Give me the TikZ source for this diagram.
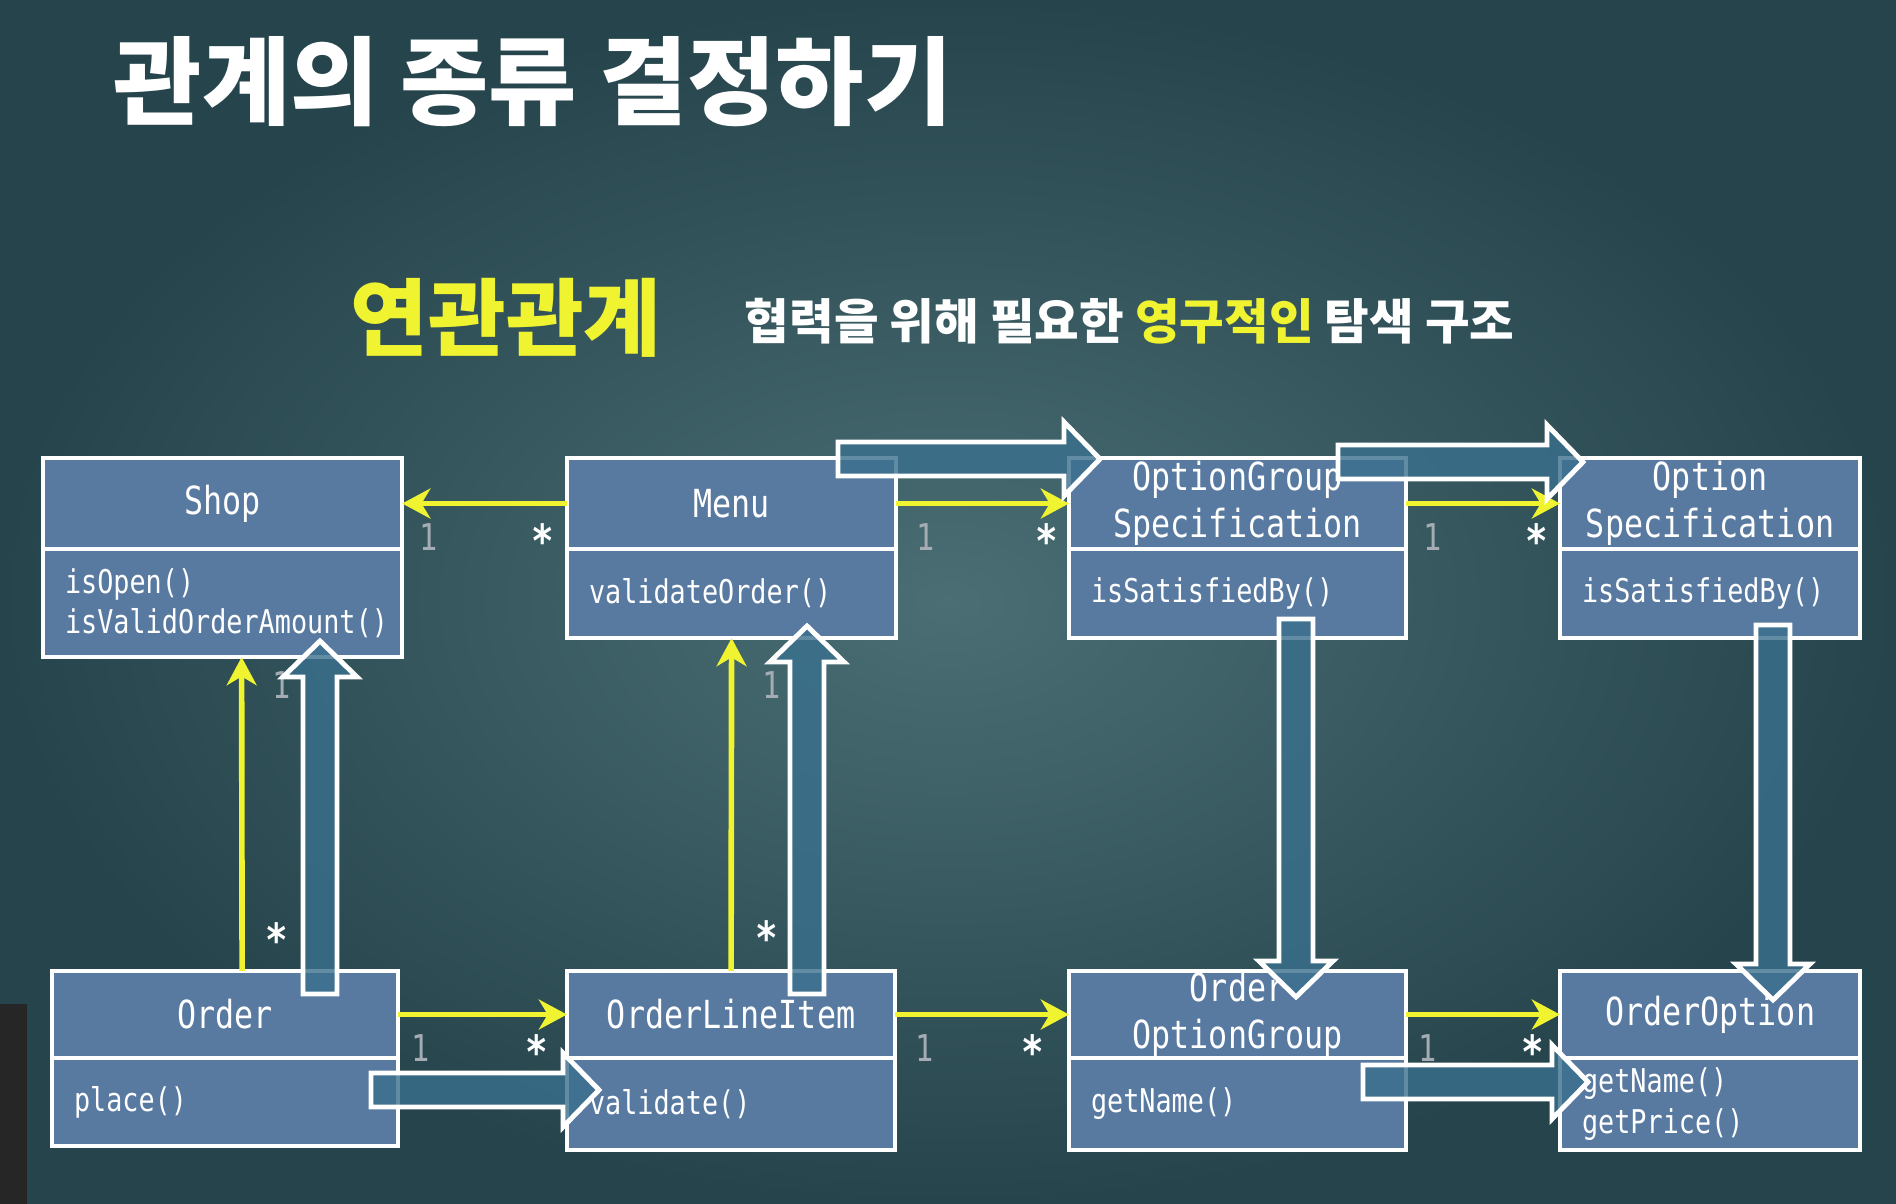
\documentclass[tikz,border=0pt]{standalone}
\usepackage{fontspec}
\newfontfamily\kr{Noto Sans CJK KR}
\newfontfamily\umlfont{DejaVu Sans Mono}[FakeStretch=0.82]
\usetikzlibrary{arrows.meta,positioning}

\definecolor{boardlight}{RGB}{74,110,116}
\definecolor{boarddark}{RGB}{38,68,76}
\definecolor{boxblue}{RGB}{88,121,160}
\definecolor{hintyellow}{RGB}{240,244,48}
\definecolor{flowblue}{RGB}{58,112,142}
\definecolor{multgray}{RGB}{165,172,180}

\newcommand{\hbig}[3]{%
	\draw[bigarrow] (#1,{#3-17}) -- ({#2-36},{#3-17}) -- ({#2-36},{#3-37}) -- (#2,#3)
		-- ({#2-36},{#3+37}) -- ({#2-36},{#3+17}) -- (#1,{#3+17}) -- cycle;}
\newcommand{\vbig}[3]{%
	\pgfmathsetmacro{\bighead}{#3+((#2>#3)?36:-36)}%
	\draw[bigarrow] ({#1-17},#2) -- ({#1-17},\bighead) -- ({#1-37},\bighead) -- (#1,#3)
		-- ({#1+37},\bighead) -- ({#1+17},\bighead) -- ({#1+17},#2) -- cycle;}

\begin{document}
\begin{tikzpicture}[x=0.01cm,y=-0.01cm,
	bigarrow/.style={draw=white, line width=1.4pt, fill=flowblue, fill opacity=0.8, line join=miter}]
	\useasboundingbox (0,0) rectangle (1896,1204);
	\shade[inner color=boardlight, outer color=boarddark] (0,0) rectangle (1896,1204);
	\fill[black!85] (0,1004) rectangle (27,1204);

	% headings
	\begin{scope}[every node/.style={anchor=west, inner sep=0pt, text=white}]
		\node[font=\kr\bfseries\fontsize{27.3}{30}\selectfont] (title) at (113,82) {관계의 종류 결정하기};
		\node[text=hintyellow, font=\kr\bfseries\fontsize{24}{28}\selectfont] (kind) at (350,318) {연관관계};
		\node[font=\kr\bfseries\fontsize{13.8}{16}\selectfont] (motto) at (744,321)
			{협력을 위해 필요한 \textcolor{hintyellow}{영구적인} 탐색 구조};
	\end{scope}

	% classes
	\begin{scope}[every node/.style={draw=white, line width=1.3pt, fill=boxblue, text=white,
				  outer sep=0pt, inner sep=0pt, align=center, font=\umlfont\fontsize{11}{13.5}\selectfont},
				  ops/.style={align=left, font=\umlfont\fontsize{9.3}{11.5}\selectfont}]
		\node[anchor=north west, minimum width=3.59cm, minimum height=0.91cm] (shop) at (43,458) {Shop};
		\node[below=0pt of shop, ops, minimum width=3.59cm, minimum height=1.08cm, text width=3.15cm] (shopops)
			{isOpen()\\isValidOrderAmount()};

		\node[anchor=north west, minimum width=3.29cm, minimum height=0.91cm] (menu) at (567,458) {Menu};
		\node[below=0pt of menu, ops, minimum width=3.29cm, minimum height=0.89cm, text width=2.85cm] (menuops)
			{validateOrder()};

		\node[anchor=north west, minimum width=3.37cm, minimum height=0.91cm] (groupspec) at (1069,458)
			{OptionGroup\\Specification};
		\node[below=0pt of groupspec, ops, minimum width=3.37cm, minimum height=0.89cm, text width=2.93cm] (groupspecops)
			{isSatisfiedBy()};

		\node[anchor=north west, minimum width=3.0cm, minimum height=0.91cm] (optspec) at (1560,458)
			{Option\\Specification};
		\node[below=0pt of optspec, ops, minimum width=3.0cm, minimum height=0.89cm, text width=2.56cm] (optspecops)
			{isSatisfiedBy()};

		\node[anchor=north west, minimum width=3.46cm, minimum height=0.87cm] (order) at (52,971) {Order};
		\node[below=0pt of order, ops, minimum width=3.46cm, minimum height=0.88cm, text width=3.02cm] (orderops)
			{place()};

		\node[anchor=north west, minimum width=3.28cm, minimum height=0.87cm] (lineitem) at (567,971) {OrderLineItem};
		\node[below=0pt of lineitem, ops, minimum width=3.28cm, minimum height=0.92cm, text width=2.84cm] (lineitemops)
			{validate()};

		\node[anchor=north west, minimum width=3.37cm, minimum height=0.87cm] (optgroup) at (1069,971)
			{Order\\OptionGroup};
		\node[below=0pt of optgroup, ops, minimum width=3.37cm, minimum height=0.92cm, text width=2.93cm] (optgroupops)
			{getName()};

		\node[anchor=north west, minimum width=3.0cm, minimum height=0.87cm] (option) at (1560,971) {OrderOption};
		\node[below=0pt of option, ops, minimum width=3.0cm, minimum height=0.92cm, text width=2.56cm] (optionops)
			{getName()\\getPrice()};
	\end{scope}

	% associations
	\begin{scope}[>={Stealth[hintyellow,length=8pt,width=8.5pt,inset=2.5pt]},
				  every node/.style={inner sep=1pt},
				  every edge/.style={draw=hintyellow, line width=1.6pt},
				  one/.style={text=multgray, font=\umlfont\fontsize{10.5}{12}\selectfont},
				  many/.style={text=white, font=\umlfont\bfseries\fontsize{13}{13}\selectfont}]
		\path [->] (menu.west) edge node[pos=0.15, below=4pt, many] {*} node[pos=0.84, below=4pt, one] {1} (shop.east);
		\path [->] (menu.east) edge node[pos=0.17, below=4pt, one] {1} node[pos=0.87, below=4pt, many] {*} (groupspec.west);
		\path [->] (groupspec.east) edge node[pos=0.17, below=4pt, one] {1} node[pos=0.85, below=4pt, many] {*} (optspec.west);
		\path [->] ([xshift=0.17cm]order.north) edge node[pos=0.1, right=5pt, many] {*}
			node[pos=0.91, right=7pt, one] {1} ([xshift=0.19cm]shopops.south);
		\path [->] (lineitem.north) edge node[pos=0.1, right=5pt, many] {*}
			node[pos=0.86, right=7pt, one] {1} (menuops.south);
		\path [->] (order.east) edge node[pos=0.13, below=4pt, one] {1} node[pos=0.82, below=4pt, many] {*} (lineitem.west);
		\path [->] (lineitem.east) edge node[pos=0.17, below=4pt, one] {1} node[pos=0.79, below=4pt, many] {*} (optgroup.west);
		\path [->] (optgroup.east) edge node[pos=0.14, below=4pt, one] {1} node[pos=0.82, below=4pt, many] {*} (option.west);
	\end{scope}

	% navigation paths
	\hbig{838}{1100}{459}
	\hbig{1338}{1583}{462}
	\vbig{320}{994}{641}
	\vbig{807}{994}{626}
	\vbig{1296}{619}{997}
	\vbig{1773}{625}{1000}
	\hbig{371}{599}{1090}
	\hbig{1363}{1588}{1082}
\end{tikzpicture}
\end{document}
